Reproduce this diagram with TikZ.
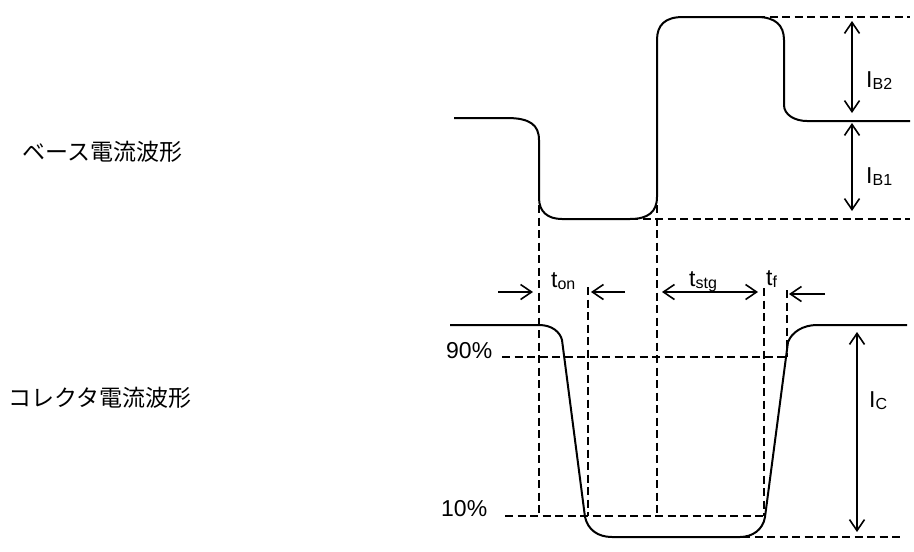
\documentclass[tikz,border=0pt]{standalone}
\usepackage{fontspec}
\setmainfont{Liberation Sans}
\newfontfamily\jpfont{Noto Sans CJK JP}
\usetikzlibrary{arrows.meta}
\tikzset{
  wave/.style={line width=2pt, line join=round},
  guide/.style={line width=1.5pt, dash pattern=on 8pt off 4.5pt},
  dim/.style={line width=1.6pt, arrows={Straight Barb[length=11pt,width=15pt,line width=1.6pt]-Straight Barb[length=11pt,width=15pt,line width=1.6pt]}},
  onetip/.style={line width=1.6pt, -{Straight Barb[length=11pt,width=15pt,line width=1.6pt]}},
  jplabel/.style={inner sep=0pt, anchor=base west, font=\jpfont\fontsize{23}{23}\selectfont},
  lbl/.style={inner sep=0pt, anchor=base west, font=\fontsize{23}{23}\selectfont}
}
\newcommand{\symsub}[2]{{\fontsize{23}{23}\selectfont #1}\raisebox{-2pt}{\fontsize{16}{16}\selectfont #2}}
\begin{document}
\begin{tikzpicture}[x=1pt,y=-1pt]
\useasboundingbox (0,0) rectangle (914,552);
% titles
\node[jplabel] (base) at (22,160) {ベース電流波形};
\node[jplabel] (coll) at (8,406) {コレクタ電流波形};
% base current waveform
\draw[wave] (454,118) -- (507,118) .. controls (530,118) and (539,125) .. (539,140)
  -- (539,198) .. controls (539,212) and (548,219) .. (562,219)
  -- (630,219) .. controls (648,219) and (657,212) .. (657,197)
  -- (657,40) .. controls (657,25) and (665,17) .. (683,17)
  -- (757,17) .. controls (775,17) and (784,25) .. (784,40)
  -- (784,105) .. controls (784,115) and (795,121) .. (807,121)
  -- (910,121);
% collector current waveform
\draw[wave] (450,325) -- (539,325) .. controls (552,325) and (560,332) .. (562,340)
  -- (585,517) .. controls (588,530) and (598,537) .. (612,537)
  -- (740,537) .. controls (752,537) and (763,530) .. (765,517)
  -- (788,342) .. controls (792,332) and (803,325) .. (817,325)
  -- (907,325);
% guide lines
\draw[guide] (757,17) -- (910,17);
\draw[guide] (630,219) -- (910,219);
\draw[guide] (539,205) -- (539,516);
\draw[guide] (657,205) -- (657,516);
\draw[guide] (502,357) -- (788,357);
\draw[guide] (505,516) -- (765,516);
\draw[guide] (742,537) -- (904,537);
\draw[guide] (588,287) -- (588,516);
\draw[guide] (764,288) -- (764,516);
\draw[guide] (787,290) -- (787,357);
% dimension coordinates
\coordinate (b2top) at (852,21);
\coordinate (b2bot) at (852,113);
\coordinate (b1top) at (852,123);
\coordinate (b1bot) at (852,211);
\coordinate (ictop) at (857,332);
\coordinate (icbot) at (857,532);
\coordinate (tonLs) at (498,292);
\coordinate (tonLe) at (533,292);
\coordinate (tonRs) at (625,292);
\coordinate (tonRe) at (591,292);
\coordinate (stgL) at (662,292);
\coordinate (stgR) at (758,292);
\coordinate (tfs) at (825,294);
\coordinate (tfe) at (789,294);
% arrows
\draw[dim] (b2top) -- (b2bot);
\draw[dim] (b1top) -- (b1bot);
\draw[dim] (ictop) -- (icbot);
\draw[dim] (stgL) -- (stgR);
\draw[onetip] (tonLs) -- (tonLe);
\draw[onetip] (tonRs) -- (tonRe);
\draw[onetip] (tfs) -- (tfe);
% labels
\node[lbl] (ib2) at (866,87) {\symsub{I}{B2}};
\node[lbl] (ib1) at (866,183) {\symsub{I}{B1}};
\node[lbl] (ic) at (869,407) {\symsub{I}{C}};
\node[lbl] (ton) at (551,287) {\symsub{t}{on}};
\node[lbl] (tstg) at (689,286) {\symsub{t}{stg}};
\node[lbl] (tf) at (766,285) {\symsub{t}{f}};
\node[lbl] (p90) at (446,358) {90\%};
\node[lbl] (p10) at (441,516) {10\%};
\end{tikzpicture}
\end{document}
